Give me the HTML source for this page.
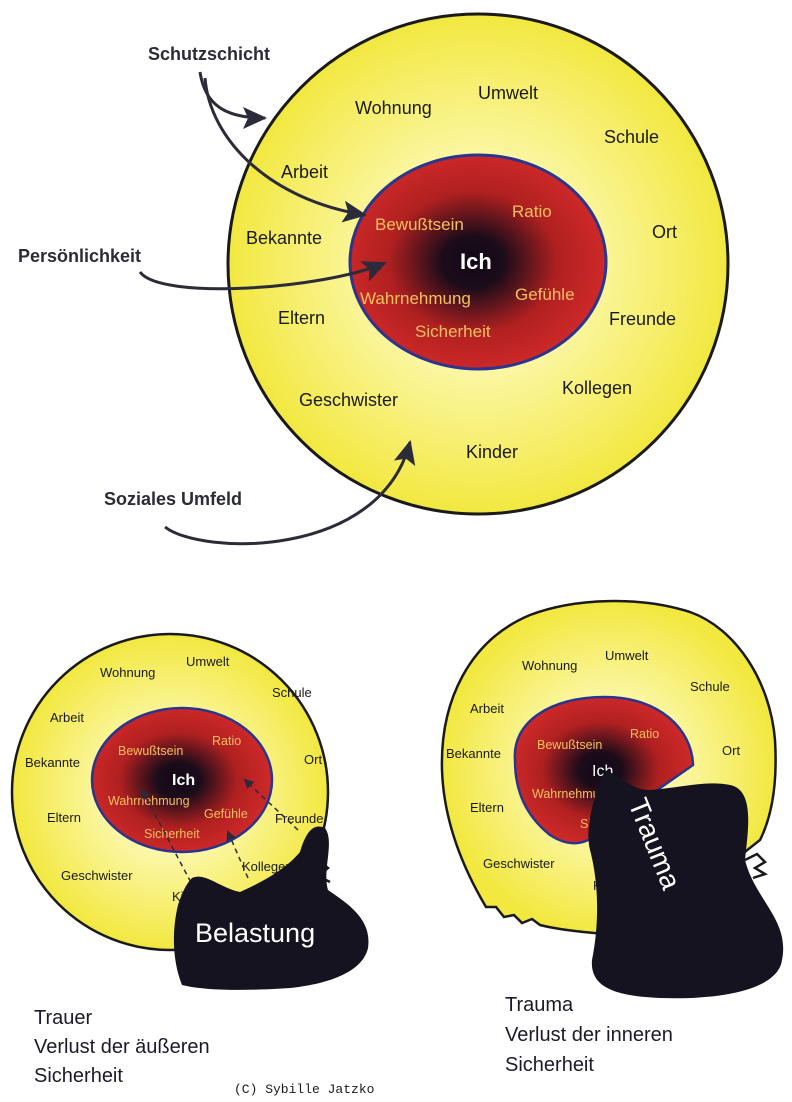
<!DOCTYPE html>
<html><head><meta charset="utf-8"><style>
html,body{margin:0;padding:0;background:#fff;}
svg{display:block;}
.s{font-family:"Liberation Sans",Arial,sans-serif;}
</style></head><body>
<svg width="792" height="1102" viewBox="0 0 792 1102" xmlns="http://www.w3.org/2000/svg" class="s">
<defs>
<radialGradient id="yel" cx="50%" cy="50%" r="50%">
<stop offset="0" stop-color="#fffbe0"/><stop offset="0.45" stop-color="#fbf6a0"/><stop offset="1" stop-color="#f2e840"/>
</radialGradient>
<radialGradient id="red" cx="48%" cy="50%" r="55%">
<stop offset="0" stop-color="#120818"/><stop offset="0.22" stop-color="#1c0c1a"/><stop offset="0.6" stop-color="#b02020"/><stop offset="1" stop-color="#d42a2a"/>
</radialGradient>
<marker id="ah" markerWidth="10" markerHeight="10" refX="8" refY="5" orient="auto" markerUnits="userSpaceOnUse">
<path d="M0,0 L10,5 L0,10 z" fill="#2b2b3a"/></marker>
<marker id="ah2" markerWidth="26" markerHeight="22" refX="22" refY="11" orient="auto" markerUnits="userSpaceOnUse">
<path d="M0,0 L24,11 L0,22 L5,11 z" fill="#2b2b3a"/></marker>
</defs>

<!-- TOP -->
<circle cx="478" cy="264" r="250" fill="url(#yel)" stroke="#1a1a1a" stroke-width="3"/>
<ellipse cx="478" cy="262" rx="128" ry="107" fill="url(#red)" stroke="#2a3590" stroke-width="3"/>
<g font-size="18" fill="#1a1a1a">
<text x="355" y="114">Wohnung</text><text x="478" y="99">Umwelt</text><text x="604" y="143">Schule</text>
<text x="281" y="178">Arbeit</text><text x="652" y="238">Ort</text><text x="246" y="244">Bekannte</text>
<text x="609" y="325">Freunde</text><text x="278" y="324">Eltern</text><text x="562" y="394">Kollegen</text>
<text x="299" y="406">Geschwister</text><text x="466" y="458">Kinder</text>
</g>
<g font-size="17" fill="#f5c060">
<text x="375" y="230">Bewußtsein</text><text x="512" y="217">Ratio</text>
<text x="360" y="304">Wahrnehmung</text><text x="515" y="300">Gefühle</text><text x="415" y="337">Sicherheit</text>
</g>
<text x="460" y="269" font-size="22" font-weight="bold" fill="#fff">Ich</text>
<g font-size="18" font-weight="bold" fill="#2b2b3a">
<text x="148" y="60">Schutzschicht</text><text x="18" y="262">Persönlichkeit</text><text x="104" y="505">Soziales Umfeld</text>
</g>
<g fill="none" stroke="#2b2b3a" stroke-width="3">
<path d="M200,72 C205,105 225,118 265,118" marker-end="url(#ah2)"/>
<path d="M205,78 C210,140 270,200 365,215" marker-end="url(#ah2)"/>
<path d="M140,272 C160,300 320,290 385,263" marker-end="url(#ah2)"/>
<path d="M165,527 C200,555 380,560 410,442" marker-end="url(#ah2)"/>
</g>

<!-- BOTTOM LEFT -->
<circle cx="170" cy="792" r="158" fill="url(#yel)" stroke="#1a1a1a" stroke-width="2.5"/>
<path d="M318,860 l10,8 l-10,8 l12,6" fill="none" stroke="#1a1a1a" stroke-width="2.5"/>
<ellipse cx="182" cy="780" rx="90" ry="72" fill="url(#red)" stroke="#2a3590" stroke-width="2.5"/>
<g font-size="13" fill="#1a1a1a">
<text x="100" y="677">Wohnung</text><text x="186" y="666">Umwelt</text><text x="272" y="697">Schule</text>
<text x="50" y="722">Arbeit</text><text x="25" y="767">Bekannte</text><text x="304" y="764">Ort</text>
<text x="47" y="822">Eltern</text><text x="275" y="823">Freunde</text><text x="61" y="880">Geschwister</text>
<text x="242" y="871">Kollegen</text><text x="172" y="901">Kinder</text>
</g>
<g font-size="12.5" fill="#f5c060">
<text x="118" y="755">Bewußtsein</text><text x="212" y="745">Ratio</text>
<text x="108" y="805">Wahrnehmung</text><text x="204" y="818">Gefühle</text><text x="144" y="838">Sicherheit</text>
</g>
<text x="172" y="785" font-size="16" font-weight="bold" fill="#fff">Ich</text>
<g fill="none" stroke="#2b2b3a" stroke-width="1.5" stroke-dasharray="5,4">
<path d="M195,890 L142,790" marker-end="url(#ah)"/>
<path d="M248,878 L228,832" marker-end="url(#ah)"/>
<path d="M298,830 L245,780" marker-end="url(#ah)"/>
</g>
<path d="M192,878 C205,872 220,888 240,892 C262,882 285,870 300,852 C305,835 312,822 325,828 C335,842 322,870 328,890 C350,905 372,920 368,948 C362,975 320,985 290,988 C260,990 210,992 182,985 C172,960 172,930 178,905 C182,893 186,884 192,878 z" fill="#15131f"/>
<text x="195" y="942" font-size="27" fill="#fff">Belastung</text>

<!-- BOTTOM RIGHT -->
<path d="M442,770 C440,700 470,640 530,615 C575,598 640,596 690,612 C735,628 770,680 775,740 C778,790 770,820 760,840 L640,935 C600,935 560,930 540,925 l-8,-6 l-10,4 l-8,-8 l-10,2 l-8,-10 l-10,0 C470,880 444,830 442,770 z" fill="url(#yel)" stroke="#1a1a1a" stroke-width="2.5"/>
<path d="M745,860 l12,-6 l8,8 l-10,6 l10,6 l-12,4" fill="none" stroke="#1a1a1a" stroke-width="2.5"/>
<path d="M515,760 C512,722 550,697 605,697 C660,697 692,730 693,765 L600,830 C588,845 570,848 550,835 C525,815 515,790 515,760 z" fill="url(#red)" stroke="#2a3590" stroke-width="2.5"/>
<g font-size="13" fill="#1a1a1a">
<text x="522" y="670">Wohnung</text><text x="605" y="660">Umwelt</text><text x="690" y="691">Schule</text>
<text x="470" y="713">Arbeit</text><text x="446" y="758">Bekannte</text><text x="722" y="755">Ort</text>
<text x="470" y="812">Eltern</text><text x="483" y="868">Geschwister</text><text x="593" y="890">Kinder</text>
</g>
<g font-size="12.5" fill="#f5c060">
<text x="537" y="749">Bewußtsein</text><text x="630" y="738">Ratio</text>
<text x="532" y="798">Wahrnehmung</text><text x="580" y="828">Sicherheit</text>
</g>
<text x="592" y="776" font-size="16" fill="#fff">Ich</text>
<path d="M605,770 C620,775 630,790 650,790 C680,788 705,780 730,785 C755,790 748,830 745,860 C755,900 790,920 782,960 C778,990 720,1000 660,998 C610,996 590,985 592,960 C600,920 598,880 590,850 C585,830 592,800 605,770 z" fill="#15131f"/>
<text x="0" y="0" font-size="28" fill="#fff" transform="translate(628,803) rotate(68)">Trauma</text>

<!-- CAPTIONS -->
<g font-size="20" fill="#1a1a2a">
<text x="34" y="1024">Trauer</text><text x="34" y="1053">Verlust der äußeren</text><text x="34" y="1082">Sicherheit</text>
<text x="505" y="1011">Trauma</text><text x="505" y="1041">Verlust der inneren</text><text x="505" y="1071">Sicherheit</text>
</g>
<text x="234" y="1093" font-size="13" style="font-family:'Liberation Mono',monospace" fill="#1a1a1a">(C) Sybille Jatzko</text>
</svg>
</body></html>
